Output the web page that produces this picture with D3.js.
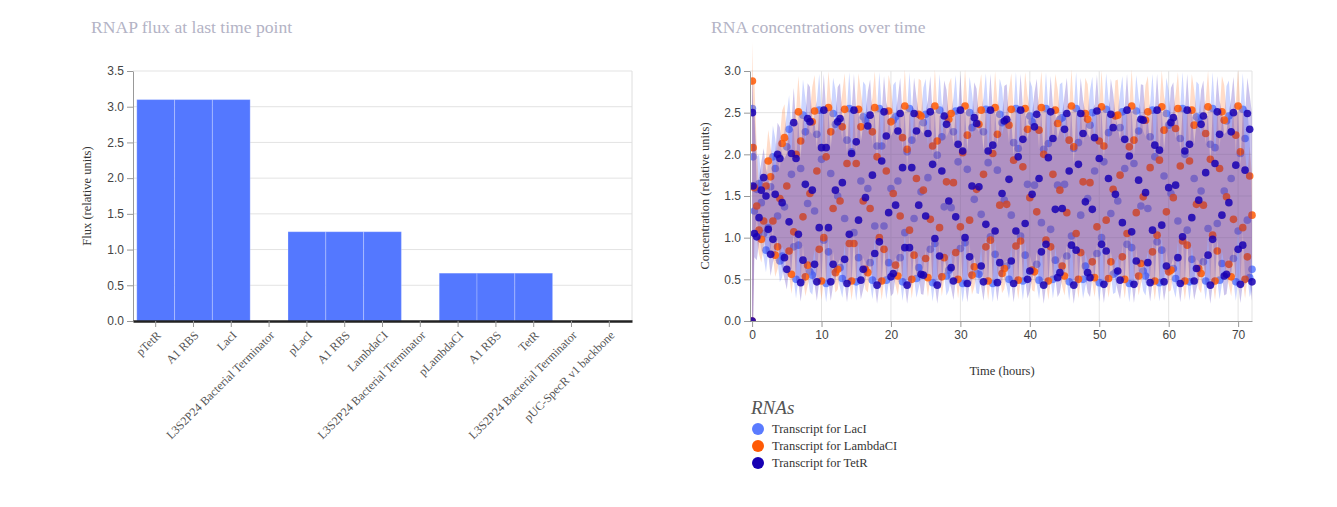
<!DOCTYPE html>
<html>
<head>
<meta charset="utf-8">
<script src="https://cdn.jsdelivr.net/npm/d3@7"></script>
<style>
body{margin:0;background:#fff;}
.title{font-family:"Liberation Serif",serif;font-size:17.6px;fill:#b3b3c5;}
.axis text{font-family:"Liberation Sans",Arial,sans-serif;font-size:12px;fill:#444;}
.axis path,.axis line{stroke:#999;}
.xbar text{font-family:"Liberation Serif",serif;font-size:12px;fill:#555;}
.grid line{stroke:#e3e3e3;}
.label{font-family:"Liberation Serif",serif;font-size:12.5px;fill:#333;}
.legend-title{font-family:"Liberation Serif",serif;font-size:19px;font-style:italic;fill:#555;}
</style>
</head>
<body>
<svg id="chart" width="1337" height="507"></svg>
<script>
//Bar chart data
const parts = ['pTetR','A1 RBS','LacI','L3S2P24 Bacterial Terminator',
               'pLacI','A1 RBS','LambdaCI','L3S2P24 Bacterial Terminator',
               'pLambdaCI','A1 RBS','TetR','L3S2P24 Bacterial Terminator',
               'pUC-SpecR v1 backbone'];
const flux = [3.1,3.1,3.1,0, 1.25,1.25,1.25,0, 0.67,0.67,0.67,0, 0];
const fluxTicks = [0,0.5,1,1.5,2,2.5,3,3.5];

//Time series data (hours), sampled every 20 min after the first points
const timeHours = [0,0.05,0.15,
 0.33,0.67,1,1.33,1.67,2,2.33,2.67,3,
 3.33,3.67,4,4.33,4.67,5,5.33,5.67,6,
 6.33,6.67,7,7.33,7.67,8,8.33,8.67,9,
 9.33,9.67,10,10.33,10.67,11,11.33,11.67,12,
 12.33,12.67,13,13.33,13.67,14,14.33,14.67,15,
 15.33,15.67,16,16.33,16.67,17,17.33,17.67,18,
 18.33,18.67,19,19.33,19.67,20,20.33,20.67,21,
 21.33,21.67,22,22.33,22.67,23,23.33,23.67,24,
 24.33,24.67,25,25.33,25.67,26,26.33,26.67,27,
 27.33,27.67,28,28.33,28.67,29,29.33,29.67,30,
 30.33,30.67,31,31.33,31.67,32,32.33,32.67,33,
 33.33,33.67,34,34.33,34.67,35,35.33,35.67,36,
 36.33,36.67,37,37.33,37.67,38,38.33,38.67,39,
 39.33,39.67,40,40.33,40.67,41,41.33,41.67,42,
 42.33,42.67,43,43.33,43.67,44,44.33,44.67,45,
 45.33,45.67,46,46.33,46.67,47,47.33,47.67,48,
 48.33,48.67,49,49.33,49.67,50,50.33,50.67,51,
 51.33,51.67,52,52.33,52.67,53,53.33,53.67,54,
 54.33,54.67,55,55.33,55.67,56,56.33,56.67,57,
 57.33,57.67,58,58.33,58.67,59,59.33,59.67,60,
 60.33,60.67,61,61.33,61.67,62,62.33,62.67,63,
 63.33,63.67,64,64.33,64.67,65,65.33,65.67,66,
 66.33,66.67,67,67.33,67.67,68,68.33,68.67,69,
 69.33,69.67,70,70.33,70.67,71,71.33,71.67,72];

const lacI = [0,2.55,1.97,
 1.32,1.58,1.65,1.42,1.05,0.85,1.12,
 1.61,1.97,1.83,1.26,0.72,0.78,1.37,
 2.09,2.30,1.76,0.89,0.50,0.91,
 1.83,2.47,2.27,1.41,0.59,0.55,1.32,
 2.24,2.53,1.94,0.97,0.45,0.83,
 1.77,2.49,2.36,1.50,0.64,0.51,1.23,
 2.17,2.55,2.03,1.06,0.47,0.76,
 1.68,2.45,2.41,1.59,0.70,0.49,1.14,
 2.10,2.55,2.10,1.14,0.49,0.70,
 1.59,2.41,2.45,1.68,0.76,0.47,1.06,
 2.03,2.55,2.17,1.23,0.51,0.64,
 1.55,2.38,2.48,1.72,0.86,0.46,0.93,
 1.99,2.53,2.21,1.37,0.54,0.61,1.36,
 2.27,2.52,1.91,0.87,0.45,0.94,
 1.82,2.50,2.32,1.46,0.57,0.56,1.28,
 2.27,2.54,1.90,1.01,0.45,0.80,
 1.81,2.48,2.38,1.45,0.66,0.50,1.27,
 2.14,2.55,2.07,1.02,0.48,0.79,
 1.64,2.46,2.39,1.63,0.68,0.49,1.18,
 2.06,2.55,2.13,1.10,0.50,0.73,
 1.63,2.42,2.44,1.64,0.78,0.47,1.02,
 2.07,2.55,2.14,1.27,0.50,0.66,
 1.47,2.35,2.50,1.80,0.81,0.46,1.00,
 1.91,2.54,2.26,1.29,0.56,0.58,1.44,
 2.32,2.51,1.83,0.92,0.45,0.88,
 1.89,2.52,2.28,1.38,0.60,0.54,1.35,
 2.21,2.53,1.97,0.95,0.46,0.85,
 1.74,2.49,2.35,1.53,0.63,0.51,1.20,
 2.19,2.55,2.00,1.09,0.47,0.74,
 1.71,2.45,2.42,1.56,0.71,0.48,1.11,
 2.12,2.55,2.08,1.17,0.49,0.69,
 1.56,2.40,2.46,1.71,0.75,0.47,1.08,
 2.01,2.54,2.19,1.21,0.52,0.62];

const lambdaCI = [0,2.88,2.08,
 1.60,1.38,1.09,0.98,1.20,1.62,1.92,
 1.73,1.20,0.79,0.89,1.47,2.13,2.20,
 1.62,0.84,0.56,1.07,2.00,2.51,
 2.16,1.25,0.53,0.67,1.53,2.39,2.52,
 1.80,0.86,0.48,1.00,1.97,2.56,
 2.27,1.35,0.58,0.62,1.44,2.33,2.54,
 1.89,0.93,0.48,0.93,1.89,2.54,
 2.33,1.44,0.62,0.58,1.35,2.27,2.56,
 1.97,1.00,0.48,0.86,1.80,2.52,
 2.39,1.53,0.67,0.54,1.26,2.20,2.58,
 2.06,1.09,0.50,0.79,1.71,2.48,
 2.46,1.57,0.75,0.52,1.22,2.10,2.58,
 2.16,1.12,0.53,0.76,1.67,2.42,2.49,
 1.66,0.82,0.50,1.13,2.02,2.58,
 2.23,1.21,0.55,0.65,1.58,2.36,2.53,
 1.76,0.89,0.48,0.97,2.01,2.56,
 2.24,1.39,0.57,0.63,1.40,2.35,2.54,
 1.93,0.90,0.49,0.96,1.85,2.55,
 2.30,1.48,0.61,0.59,1.31,2.29,2.56,
 2.00,0.97,0.48,0.89,1.76,2.53,
 2.37,1.57,0.66,0.54,1.30,2.17,2.58,
 2.09,1.05,0.50,0.82,1.67,2.49,
 2.42,1.66,0.71,0.52,1.13,2.16,2.57,
 2.10,1.21,0.51,0.71,1.58,2.46,2.47,
 1.75,0.77,0.50,1.05,2.09,2.58,
 2.17,1.30,0.54,0.69,1.49,2.41,2.51,
 1.84,0.83,0.48,1.03,1.93,2.57,
 2.29,1.31,0.59,0.61,1.48,2.31,2.55,
 1.86,0.96,0.48,0.91,1.92,2.53,
 2.35,1.40,0.63,0.57,1.39,2.25,2.57,
 1.94,1.03,0.48,0.84,1.83,2.51,
 2.41,1.49,0.68,0.53,1.22,2.23,2.58,
 2.03,1.12,0.50,0.77,1.74,1.27];

const tetR = [0,2.50,1.62,
 1.05,1.01,1.24,1.57,1.72,1.50,1.10,
 0.80,0.98,1.52,2.00,1.95,1.42,0.76,
 0.62,1.19,2.01,2.38,1.95,1.04,
 0.46,0.73,1.64,2.43,2.39,1.57,0.68,
 0.47,1.12,2.08,2.53,2.08,1.12,
 0.47,0.68,1.57,2.39,2.43,1.66,0.74,
 0.45,1.04,2.01,2.53,2.15,1.21,
 0.49,0.62,1.48,2.34,2.47,1.75,0.81,
 0.43,0.95,1.92,2.51,2.22,1.30,
 0.53,0.57,1.39,2.28,2.49,1.84,0.88,
 0.43,0.88,1.84,2.49,2.28,1.39,
 0.56,0.55,1.26,2.25,2.51,1.88,0.99,
 0.43,0.78,1.80,2.46,2.36,1.44,0.64,
 0.48,1.25,2.12,2.53,2.04,1.00,
 0.45,0.77,1.62,2.44,2.37,1.61,0.66,
 0.47,1.16,2.04,2.53,2.11,1.08,
 0.46,0.70,1.53,2.40,2.42,1.70,0.72,
 0.45,1.08,1.97,2.53,2.18,1.17,
 0.50,0.60,1.52,2.33,2.48,1.71,0.83,
 0.43,0.92,1.96,2.51,2.19,1.34,
 0.52,0.58,1.35,2.30,2.49,1.80,0.91,
 0.43,0.85,1.88,2.49,2.25,1.43,
 0.58,0.52,1.34,2.20,2.52,1.95,0.92,
 0.44,0.84,1.71,2.48,2.32,1.52,0.60,
 0.49,1.18,2.18,2.53,1.98,1.07,
 0.44,0.72,1.69,2.42,2.41,1.54,0.70,
 0.46,1.09,2.11,2.53,2.05,1.15,
 0.47,0.66,1.60,2.38,2.44,1.63,0.76,
 0.45,1.01,2.04,2.53,2.12,1.24,
 0.48,0.63,1.45,2.36,2.46,1.78,0.79,
 0.43,0.98,1.89,2.51,2.24,1.27,
 0.54,0.56,1.42,2.27,2.50,1.87,0.86,
 0.44,0.91,1.81,2.49,2.30,0.47];

const rnaNames = ['Transcript for LacI','Transcript for LambdaCI','Transcript for TetR'];
const rnaColors = ['#5a7bff','#ff5a05','#1700b3'];
const bandColors = ['rgba(90,118,255,0.3)','rgba(255,120,45,0.26)','rgba(40,10,175,0.24)'];
const concTicks = [0,0.5,1,1.5,2,2.5,3];
const timeTicks = [0,10,20,30,40,50,60,70];
// uncertainty band: range of neighbouring samples, widened by a spread at each point
const bandNeighbours = 2;
const spreadAbs = 0.18, spreadRel = 0.1;

const svg = d3.select('#chart');

function drawBarChart(){
    const left = 133, right = 632, top = 71, bottom = 321;
    svg.append('text').attr('class','title').attr('x',91).attr('y',33).text('RNAP flux at last time point');

    const x = d3.scaleBand().domain(d3.range(parts.length))
                .range([left,right]).paddingInner(0).paddingOuter(0.1);
    const y = d3.scaleLinear().domain([0,3.5]).range([bottom,top]);

    const g = svg.append('g');
    g.append('g').attr('class','grid').selectAll('line')
     .data(fluxTicks.slice(1)).enter().append('line')
     .attr('x1',left).attr('x2',right).attr('y1',d=>y(d)).attr('y2',d=>y(d));
    g.append('line').attr('x1',right).attr('x2',right).attr('y1',top).attr('y2',bottom)
     .style('stroke','#dedede');

    g.selectAll('.bar').data(flux).enter().append('rect').attr('class','bar')
     .attr('x',(d,i)=>x(i)).attr('y',d=>y(d))
     .attr('width',x.bandwidth()).attr('height',d=>bottom-y(d))
     .style('fill','#5478ff').style('stroke','rgba(255,255,255,0.25)').style('stroke-width',1);

    const yAxis = d3.axisLeft(y).tickValues(fluxTicks).tickFormat(d3.format('.1f')).tickSizeOuter(0);
    g.append('g').attr('class','axis').attr('transform',`translate(${left},0)`).call(yAxis);

    const xAxis = d3.axisBottom(x).tickFormat(i=>parts[i]).tickSizeOuter(0);
    const xg = g.append('g').attr('class','axis xbar').attr('transform',`translate(0,${bottom})`).call(xAxis);
    xg.select('.domain').style('stroke','#222').style('stroke-width',2.5);
    xg.selectAll('text').attr('x',0).attr('y',0).attr('dy','0.35em')
      .attr('text-anchor','end').attr('transform','translate(3,12) rotate(-45)');

    svg.append('text').attr('class','label')
       .attr('transform',`translate(91,${(top+bottom)/2}) rotate(-90)`)
       .attr('text-anchor','middle').text('Flux (relative units)');
}

function bandOf(pts){
    return pts.map((d,i)=>{
        const win = pts.slice(Math.max(0,i-bandNeighbours), i+bandNeighbours+1).map(p=>p.v);
        const s = spreadAbs + spreadRel*d.v;
        return {t:d.t,
                lo:Math.max(0, Math.min(d3.min(win), d.v-s)),
                hi:Math.max(d3.max(win), d.v+s)};
    });
}

function drawTimeChart(){
    const left = 750, right = 1252, top = 71, bottom = 321;
    svg.append('text').attr('class','title').attr('x',711).attr('y',33).text('RNA concentrations over time');

    const x = d3.scaleLinear().domain([-0.3,72]).range([left,right]);
    const y = d3.scaleLinear().domain([0,3]).range([bottom,top]);

    const g = svg.append('g');
    const grid = g.append('g').attr('class','grid');
    grid.selectAll('.h').data(concTicks.slice(1)).enter().append('line')
        .attr('x1',left).attr('x2',right).attr('y1',d=>y(d)).attr('y2',d=>y(d));
    grid.selectAll('.v').data(timeTicks.slice(1)).enter().append('line')
        .attr('x1',d=>x(d)).attr('x2',d=>x(d)).attr('y1',top).attr('y2',bottom);
    grid.append('line').attr('x1',right).attr('x2',right).attr('y1',top).attr('y2',bottom);

    svg.append('clipPath').attr('id','plotclip').append('rect')
       .attr('x',left).attr('y',0).attr('width',right-left+4).attr('height',bottom+1);

    const series = [lacI,lambdaCI,tetR];
    const plot = g.append('g').attr('clip-path','url(#plotclip)');
    series.forEach((vals,s)=>{
        const pts = timeHours.map((t,i)=>({t:t,v:vals[i]})).filter(d=>d.v!==undefined);
        const area = d3.area().x(d=>x(d.t)).y0(d=>y(d.lo)).y1(d=>y(d.hi));
        plot.append('path').datum(bandOf(pts)).attr('d',area).style('fill',bandColors[s]);
        plot.selectAll('.dot'+s).data(pts).enter().append('circle')
            .attr('cx',d=>x(d.t)).attr('cy',d=>y(d.v)).attr('r',3.8)
            .style('fill',rnaColors[s]).style('opacity',0.85);
    });

    const yAxis = d3.axisLeft(y).tickValues(concTicks).tickFormat(d3.format('.1f')).tickSizeOuter(0);
    g.append('g').attr('class','axis').attr('transform',`translate(${left},0)`).call(yAxis);
    const xAxis = d3.axisBottom(x).tickValues(timeTicks).tickSizeOuter(0);
    g.append('g').attr('class','axis').attr('transform',`translate(0,${bottom})`).call(xAxis);

    svg.append('text').attr('class','label')
       .attr('transform',`translate(709,${(top+bottom)/2}) rotate(-90)`)
       .attr('text-anchor','middle').text('Concentration (relative units)');
    svg.append('text').attr('class','label').attr('x',1002).attr('y',375)
       .attr('text-anchor','middle').text('Time (hours)');

    //Legend
    const lg = svg.append('g').attr('transform','translate(751,0)');
    lg.append('text').attr('class','legend-title').attr('x',0).attr('y',414).text('RNAs');
    const items = lg.selectAll('.item').data(rnaNames).enter().append('g')
                    .attr('transform',(d,i)=>`translate(0,${429+i*17})`);
    items.append('circle').attr('cx',7).attr('cy',0).attr('r',6).style('fill',(d,i)=>rnaColors[i]);
    items.append('text').attr('class','label').attr('x',21).attr('y',4).text(d=>d);
}

drawBarChart();
drawTimeChart();
</script>
</body>
</html>
